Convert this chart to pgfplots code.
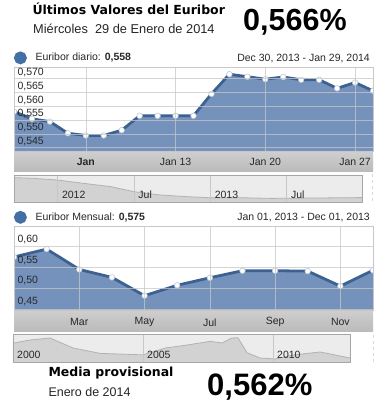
\documentclass[border=0pt]{standalone}
\usepackage{pgfplots}
\pgfplotsset{compat=1.18}
\usepackage{fontspec}
\setmainfont{Liberation Sans}
\newfontfamily\verd{DejaVu Sans}
\definecolor{fillblue}{RGB}{116,146,188}
\definecolor{lineblue}{RGB}{61,98,145}
\definecolor{dotblue}{RGB}{67,111,165}
\definecolor{gridc}{RGB}{200,200,200}
\definecolor{txt}{RGB}{40,40,40}
\definecolor{navbg}{RGB}{236,236,236}
\definecolor{navfill}{RGB}{210,210,210}
\definecolor{navline}{RGB}{178,178,178}
\newcommand{\sm}{\fontsize{10.5}{12}\selectfont}
\pgfplotsset{
  mainchart/.style={
    scale only axis, anchor=south west, width=359pt,
    axis on top, clip marker paths=true,
    axis line style={draw=gridc},
    grid=major, major grid style={draw=white!78!black, line width=0.6pt, opacity=0.75},
    major tick length=0pt,
    scaled y ticks=false,
    /pgf/number format/assume math mode=true,
    tick label style={font=\sm, text=txt, inner sep=0pt},
    xticklabel style={anchor=center},
    legend style={at={(axis description cs:0,1)}, anchor=south west, draw=none, fill=none,
      inner sep=0pt, outer sep=0pt, font=\sm, text=txt, yshift=3pt,
      nodes={inner sep=0pt}},
    legend image code/.code={\fill[dotblue] (5pt,0pt) circle (5pt);},
    legend cell align=left,
  },
  navchart/.style={
    scale only axis, anchor=south west, axis on top,
    axis background/.style={fill=navbg},
    axis line style={draw=black!35},
    ytick=\empty, xmajorgrids, major grid style={draw=black!22},
    major tick length=0pt,
    xticklabel style={anchor=base west, inner sep=0pt, font=\sm, text=txt},
  },
}
\begin{document}
\begin{tikzpicture}[x=1pt,y=1pt]
\fill[white] (0pt,0pt) rectangle (382pt,406pt);
\path[use as bounding box] (0pt,0pt) rectangle (382pt,406pt);

% header
\node[anchor=base west, inner sep=0pt, font=\verd\bfseries\fontsize{12.5}{14}\selectfont] at (32.3pt,391pt) {Últimos Valores del Euribor};
\node[anchor=base west, inner sep=0pt, font=\fontsize{12.8}{14}\selectfont, text=black!85] at (33pt,372.7pt) {Miércoles\ \ 29 de Enero de 2014};
\node[anchor=base west, inner sep=0pt, font=\bfseries\fontsize{30.5}{32}\selectfont] at (243pt,375.3pt) {0,566\%};

% bands under the plots
\shade[top color=black!19, bottom color=black!27] (14pt,234pt) rectangle (373pt,255pt);
\shade[top color=black!19, bottom color=black!27] (14pt,74pt) rectangle (373pt,96pt);
\draw[black!15, dashed] (372pt,205pt) -- (372pt,233pt);
\draw[black!15, dashed] (372.7pt,44pt) -- (372.7pt,73pt);

% daily chart
\begin{axis}[mainchart, at={(14pt,255pt)}, height=83.7pt,
  xmin=0, xmax=20, ymin=0.5438, ymax=0.5740,
  xtick={4,9,14,19}, xticklabels={\textbf{Jan},Jan 13,Jan 20,Jan 27},
  xticklabel style={yshift=-11.3pt},
  ytick={0.545,0.55,0.555,0.56,0.565,0.57},
  yticklabel style={anchor=west, xshift=3.3pt, yshift=6pt,
    /pgf/number format/.cd, fixed, fixed zerofill, precision=3, use comma, /tikz/.cd},
]
\addplot[draw=none, fill=fillblue, forget plot] table {
x y
0 0.5580
1 0.5554
2 0.5544
3 0.5502
4 0.5494
5 0.5494
6 0.5513
7 0.5565
8 0.5565
9 0.5565
10 0.5565
11 0.5644
12 0.5715
13 0.5706
14 0.5697
15 0.5705
16 0.5695
17 0.5695
18 0.5664
19 0.5685
20 0.5655
} \closedcycle;
\addplot[lineblue, line width=2.8pt, mark=*, mark size=2.8pt,
  mark options={fill=white, draw=white!65!lineblue, line width=0.6pt}] table {
x y
0 0.5580
1 0.5554
2 0.5544
3 0.5502
4 0.5494
5 0.5494
6 0.5513
7 0.5565
8 0.5565
9 0.5565
10 0.5565
11 0.5644
12 0.5715
13 0.5706
14 0.5697
15 0.5705
16 0.5695
17 0.5695
18 0.5664
19 0.5685
20 0.5655
};
\addlegendentry{\ \ \ Euribor diario: \textbf{0,558}}
\end{axis}
\node[anchor=base east, inner sep=0pt, font=\sm, text=txt] at (370pt,344.6pt) {Dec 30, 2013 - Jan 29, 2014};

% daily navigator
\begin{axis}[navchart, at={(14pt,204pt)}, width=348pt, height=27pt,
  xmin=2011.716, xmax=2013.995, ymin=0.227, ymax=2.27,
  xtick={2012,2012.5,2013,2013.5}, xticklabels={2012,Jul,2013,Jul},
  xticklabel style={xshift=4.5pt, yshift=3.2pt}]
\addplot[fill=navfill, draw=none] table {
x y
2011.716 2.07
2011.84 2.02
2012.0 1.89
2012.17 1.64
2012.35 1.39
2012.5 1.01
2012.67 0.76
2012.85 0.63
2013.0 0.55
2013.2 0.55
2013.4 0.50
2013.6 0.52
2013.8 0.54
2013.995 0.56
} \closedcycle;
\addplot[navline, line width=0.8pt] table {
x y
2011.716 2.07
2011.84 2.02
2012.0 1.89
2012.17 1.64
2012.35 1.39
2012.5 1.01
2012.67 0.76
2012.85 0.63
2013.0 0.55
2013.2 0.55
2013.4 0.50
2013.6 0.52
2013.8 0.54
2013.995 0.56
};
\end{axis}

% monthly chart
\begin{axis}[mainchart, at={(14pt,96pt)}, height=83.3pt,
  xmin=0, xmax=11, ymin=0.4476, ymax=0.6478,
  xtick={2,4,6,8,10}, xticklabels={Mar,May,Jul,Sep,Nov},
  xticklabel style={yshift=-12.3pt},
  ytick={0.45,0.5,0.55,0.6},
  yticklabel style={anchor=west, xshift=3.3pt, yshift=7.3pt,
    /pgf/number format/.cd, fixed, fixed zerofill, precision=2, use comma, /tikz/.cd},
]
\addplot[draw=none, fill=fillblue, forget plot] table {
x y
0 0.575
1 0.594
2 0.545
3 0.526
4 0.482
5 0.507
6 0.525
7 0.542
8 0.542
9 0.541
10 0.505
11 0.543
} \closedcycle;
\addplot[lineblue, line width=2.8pt, mark=*, mark size=2.8pt,
  mark options={fill=white, draw=white!65!lineblue, line width=0.6pt}] table {
x y
0 0.575
1 0.594
2 0.545
3 0.526
4 0.482
5 0.507
6 0.525
7 0.542
8 0.542
9 0.541
10 0.505
11 0.543
};
\addlegendentry{\ \ \ Euribor Mensual: \textbf{0,575}}
\end{axis}
\node[anchor=base east, inner sep=0pt, font=\sm, text=txt] at (370pt,185.5pt) {Jan 01, 2013 - Dec 01, 2013};

% monthly navigator
\begin{axis}[navchart, at={(13pt,44pt)}, width=337pt, height=28pt,
  xmin=2000, xmax=2012.96, ymin=0.62, ymax=6.08,
  xtick={2000,2005,2010}, xticklabels={2000,2005,2010},
  xticklabel style={xshift=4pt, yshift=3.7pt}]
\addplot[fill=navfill, draw=none] table {
x y
2000.0 4.30
2000.65 4.91
2001.42 5.30
2002.31 3.35
2003.35 2.30
2005.0 2.01
2005.88 3.37
2006.54 3.81
2007.58 4.64
2008.04 4.33
2008.42 5.30
2008.65 5.36
2009.0 2.42
2009.5 1.40
2010.08 1.21
2010.77 1.99
2011.81 2.57
2012.38 1.99
2012.96 1.40
} \closedcycle;
\addplot[navline, line width=0.8pt] table {
x y
2000.0 4.30
2000.65 4.91
2001.42 5.30
2002.31 3.35
2003.35 2.30
2005.0 2.01
2005.88 3.37
2006.54 3.81
2007.58 4.64
2008.04 4.33
2008.42 5.30
2008.65 5.36
2009.0 2.42
2009.5 1.40
2010.08 1.21
2010.77 1.99
2011.81 2.57
2012.38 1.99
2012.96 1.40
};
\end{axis}

% footer
\node[anchor=base west, inner sep=0pt, font=\verd\bfseries\fontsize{12.5}{14}\selectfont] at (48.3pt,29.3pt) {Media provisional};
\node[anchor=base west, inner sep=0pt, font=\fontsize{12.5}{14}\selectfont, text=black!85] at (48.3pt,9.3pt) {Enero de 2014};
\node[anchor=base west, inner sep=0pt, font=\bfseries\fontsize{31}{33}\selectfont] at (207pt,10pt) {0,562\%};
\end{tikzpicture}
\end{document}
